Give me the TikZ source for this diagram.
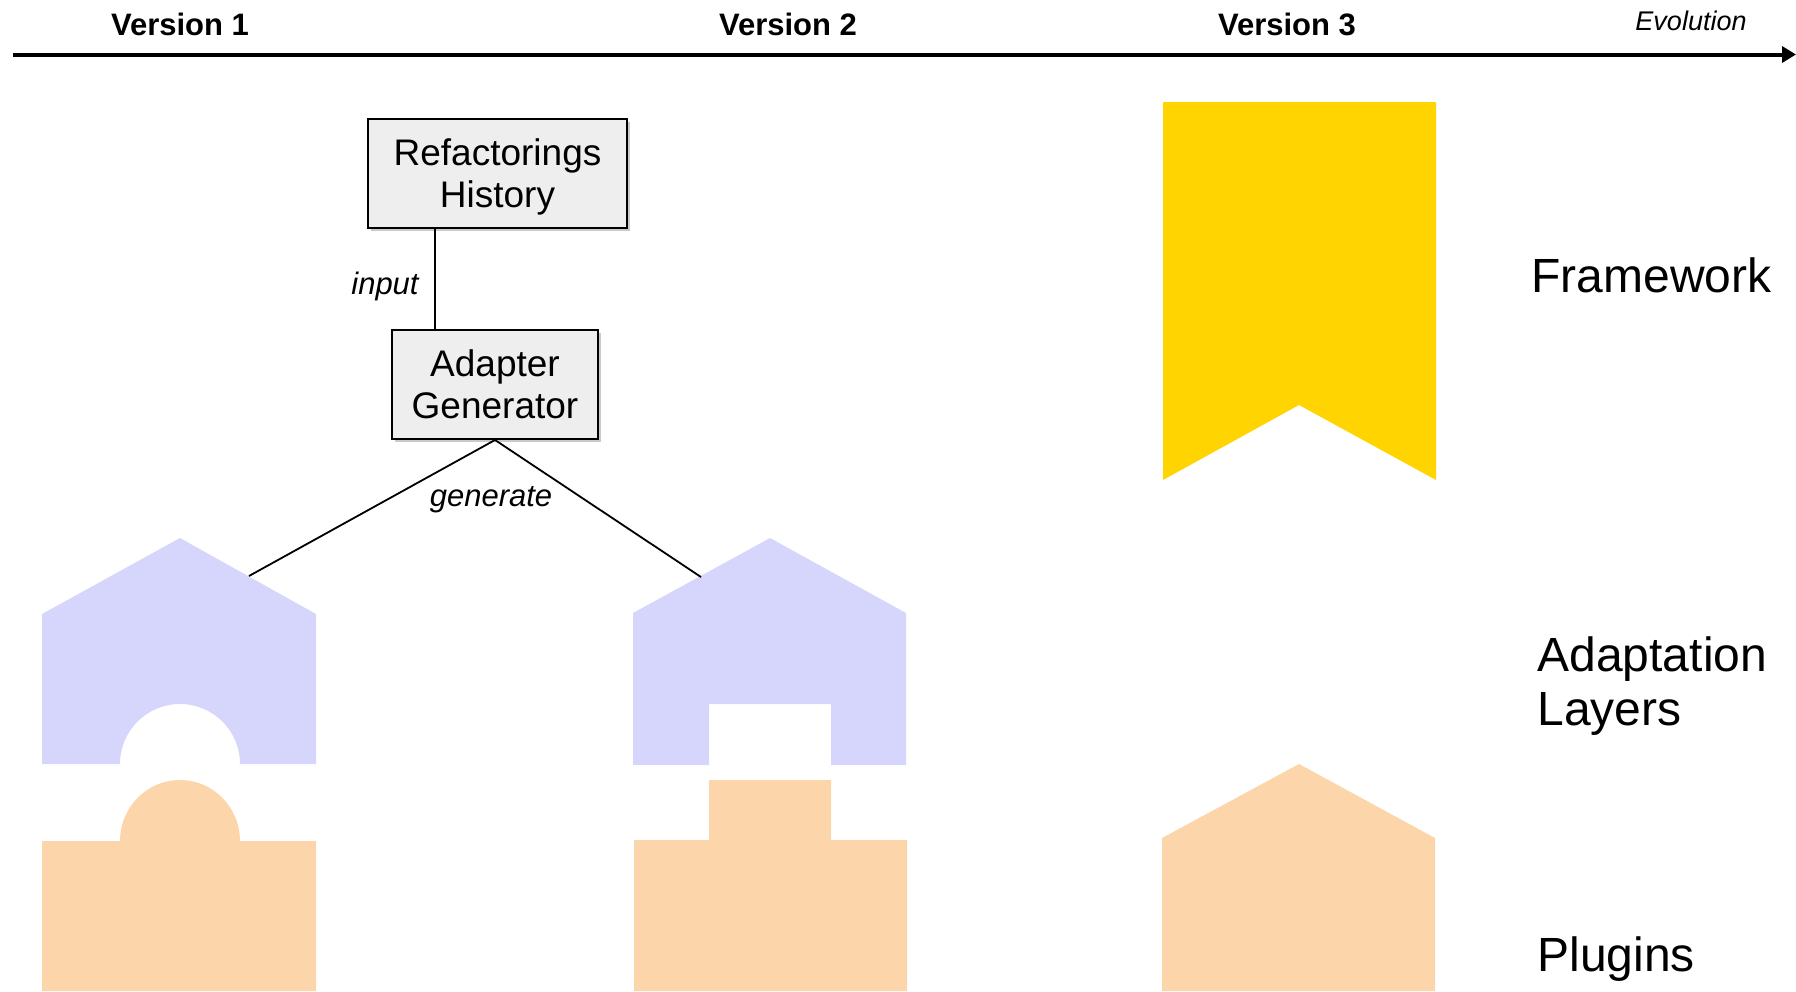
\documentclass[tikz,border=0pt]{standalone}
\usepackage{fontspec}
\setmainfont{Liberation Sans}
\usetikzlibrary{arrows.meta,shadows}
\definecolor{layerblue}{RGB}{214,214,252}
\definecolor{plugorange}{RGB}{253,213,170}
\definecolor{fwyellow}{RGB}{255,212,0}
\definecolor{boxgray}{RGB}{238,238,238}
\tikzset{
  vlabel/.style={font=\fontsize{31}{37}\selectfont\bfseries, anchor=center},
  elabel/.style={font=\fontsize{31}{37}\selectfont\itshape},
  procbox/.style={draw=black, line width=2pt, fill=boxgray, align=center,
    font=\fontsize{37}{42}\selectfont, inner sep=0pt,
    drop shadow={shadow xshift=3pt, shadow yshift=-3pt, fill=black!35, opacity=0.6}},
  layername/.style={font=\fontsize{48}{54}\selectfont, align=left, anchor=west},
  conn/.style={line width=1.8pt, draw=black},
}
\begin{document}
\begin{tikzpicture}[x=1pt,y=-1pt]
\useasboundingbox (0,0) rectangle (1796,991);
% timeline
\coordinate (tl0) at (13,54.5);
\coordinate (tl1) at (1796,54.5);
\draw[line width=4pt, -{Triangle[length=14pt,width=16pt]}] (tl0) -- (tl1);
\node[vlabel] (v1) at (180,24) {Version 1};
\node[vlabel] (v2) at (788,24) {Version 2};
\node[vlabel] (v3) at (1287,24) {Version 3};
\node[font=\fontsize{27}{32}\selectfont\itshape, anchor=center] (evo) at (1691,21) {Evolution};

% framework (yellow banner)
\fill[fwyellow] (1163,102) -- (1436,102) -- (1436,480) -- (1299,405) -- (1163,480) -- cycle;

% adaptation layer v1
\fill[layerblue] (42,764) -- (42,614) -- (180,538) -- (316,614) -- (316,764) -- (240,764)
  arc[start angle=0, end angle=-180, radius=60] -- cycle;
% plugin v1
\fill[plugorange] (42,991) -- (42,841) -- (120,841) arc[start angle=180, end angle=0, x radius=60, y radius=-61] -- (316,841) -- (316,991) -- cycle;
% adaptation layer v2
\fill[layerblue] (633,765) -- (633,613) -- (770,538) -- (906,613) -- (906,765) -- (831,765) -- (831,704) -- (709,704) -- (709,765) -- cycle;
% plugin v2
\fill[plugorange] (634,991) -- (634,840) -- (709,840) -- (709,780) -- (831,780) -- (831,840) -- (907,840) -- (907,991) -- cycle;
% plugin v3
\fill[plugorange] (1162,991) -- (1162,838) -- (1299,764) -- (1435,838) -- (1435,991) -- cycle;

% boxes
\node[procbox, minimum width=259pt, minimum height=109pt] (hist) at (497.5,173.5) {\rule{0pt}{34pt}Refactorings\\History};
\node[procbox, minimum width=206pt, minimum height=109pt] (gen) at (495,384.5) {Adapter\\Generator};

\coordinate (histb) at (435,228);
\coordinate (gent) at (435,330);
\draw[conn] (histb) -- (gent);
\node[elabel, anchor=center] (inlab) at (385,286) {input};

\coordinate (genb) at (495,440);
\coordinate (roof1) at (249,576);
\coordinate (roof2) at (701,577);
\draw[conn] (roof1) -- (genb) -- (roof2);
\node[elabel, anchor=center] (genlab) at (491,500) {generate};

% layer names
\node[layername] (fw) at (1528,275) {Framework};
\node[layername, anchor=north west] (al) at (1534,633) {Adaptation\\Layers};
\node[layername] (pl) at (1534,959) {Plugins};
\end{tikzpicture}
\end{document}
